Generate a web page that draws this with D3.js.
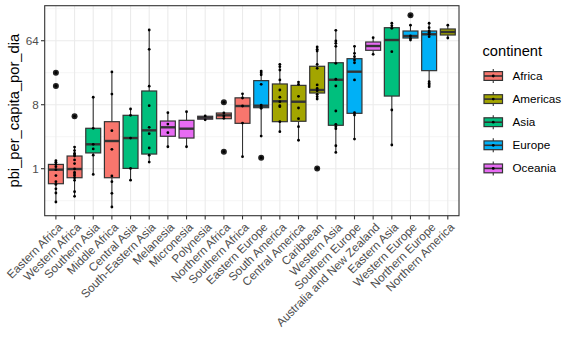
<!DOCTYPE html>
<html><head><meta charset="utf-8">
<script src="https://cdn.jsdelivr.net/npm/d3@7"></script>
<style>body{margin:0;background:#fff}svg{display:block;font-family:"Liberation Sans",Arial,Helvetica,sans-serif}</style>
</head><body><svg id="c" width="576" height="355"></svg>
<script>
const regions = ["Eastern Africa","Western Africa","Southern Asia","Middle Africa","Central Asia","South-Eastern Asia","Melanesia","Micronesia","Polynesia","Northern Africa","Southern Africa","Eastern Europe","South America","Central America","Caribbean","Western Asia","Southern Europe","Australia and New Zealand","Eastern Asia","Western Europe","Northern Europe","Northern America"];
const regionContinent = ["Africa","Africa","Asia","Africa","Asia","Asia","Oceania","Oceania","Oceania","Africa","Africa","Europe","Americas","Americas","Americas","Asia","Europe","Oceania","Asia","Europe","Europe","Americas"];
const continents = ["Africa","Americas","Asia","Europe","Oceania"];
const continentColors = ["#F8766D","#A3A500","#00BF7D","#00B0F6","#E76BF3"];
const lowerWhisker = [0.339,0.408,0.83,0.288,0.69,1.23,2.04,2.04,4.9,5.08,1.48,2.89,3.33,2.52,9.63,1.70,2.62,41.2,2.16,65.5,14.4,69.9];
const q1 = [0.614,0.746,1.67,0.746,1.01,1.61,2.87,2.71,5.0,5.08,4.37,7.26,4.61,4.67,11.7,4.10,6.05,46.9,10.6,69.9,24.2,77.1];
const medians = [0.97,0.99,2.21,2.46,2.71,3.48,3.84,3.67,5.25,5.67,7.67,7.75,8.94,8.82,12.9,18.0,23.4,53.9,65.5,74.6,78.9,85.0];
const q3 = [1.15,1.51,3.72,4.61,5.67,12.5,4.71,4.82,5.5,6.11,10.0,17.5,15.7,15.0,27.9,31.3,35.7,61.4,97.7,87.8,87.8,93.7];
const upperWhisker = [1.30,2.02,10.2,23.2,6.96,90.7,6.17,6.37,5.55,6.11,11.4,23.9,29.7,16.7,52.2,89.8,53.4,70.6,113,106,113,106];
const outliers = [[22.6,14.7],[5.49],[],[],[],[],[],[],[],[8.65,1.74],[],[1.43],[],[],[1.01],[],[],[],[],[146],[],[]];
const points = [
 [1.30,1.23,1.15,1.07,0.97,0.80,0.656,0.60,0.52,0.454,0.339],
 [2.02,1.80,1.65,1.58,1.51,1.33,1.18,0.99,0.89,0.84,0.80,0.746,0.686,0.474,0.408],
 [10.2,3.72,2.21,1.90,1.55,0.83],
 [23.2,11.3,3.44,1.88,0.79,0.656,0.45,0.288],
 [6.96,5.67,2.71,1.01,0.69],
 [90.7,48.4,14.6,7.75,3.84,3.12,1.96,1.55,1.24],
 [6.17,4.27,3.22,2.04],
 [6.37,2.04],
 [5.55,4.9],
 [6.11,5.54,5.14],
 [11.4,9.95,7.67,4.41,1.48],
 [23.9,22.6,21.2,15.5,7.92,7.50,7.12,2.89],
 [29.7,27.5,24.7,17.9,12.9,10.2,8.82,7.75,7.50,4.61,3.33],
 [16.7,15.5,10.5,7.19,5.08,3.92,2.52],
 [52.2,48.4,45.8,29.7,26.1,15.2,13.6,12.6,11.2,10.4,9.63],
 [89.8,63.4,58.9,53.4,30.7,18.3,14.7,6.52,4.23,3.92,3.67,2.11,1.70],
 [53.4,42.5,38.1,34.2,31.3,17.9,6.17,5.73,2.62],
 [70.6,41.2],
 [113,104,95.8,44.8,6.74,2.16],
 [106,74.6,69.2,65.5],
 [113,97.7,87.8,84.2,78.9,72.9,16.9,16.0,15.2,14.4],
 [106,69.9]
];
const yTicks = [1,8,64];
const yMinor = [Math.pow(2,-1.5),Math.pow(2,1.5),Math.pow(2,4.5),Math.pow(2,7.5)];
const yTitle = "pbi_per_capita_por_dia";
const legendTitle = "continent";

const svg = d3.select("#c");
const L = 44.7, R = 459, T = 5.7, B = 215.7;
const x = d3.scalePoint().domain(regions).range([L, R]).padding(0.6);
const y = d3.scaleLog().base(2).domain([Math.pow(2,-2.203), Math.pow(2,7.642)]).range([B, T]);
const color = d3.scaleOrdinal().domain(continents).range(continentColors);
const bw = x.step()*0.8;

// panel background
svg.append("rect").attr("x",L).attr("y",T).attr("width",R-L).attr("height",B-T).attr("fill","#fff");
const grid = svg.append("g");
yMinor.forEach(v=>{ const yy=y(v); if(yy>T && yy<B) grid.append("line").attr("x1",L).attr("x2",R).attr("y1",yy).attr("y2",yy).attr("stroke","#EBEBEB").attr("stroke-width",0.55); });
yTicks.forEach(v=>grid.append("line").attr("x1",L).attr("x2",R).attr("y1",y(v)).attr("y2",y(v)).attr("stroke","#EBEBEB").attr("stroke-width",1.1));
regions.forEach(r=>grid.append("line").attr("x1",x(r)).attr("x2",x(r)).attr("y1",T).attr("y2",B).attr("stroke","#EBEBEB").attr("stroke-width",1.1));

const boxes = svg.append("g");
regions.forEach((r,i)=>{
  const cx = x(r), g = boxes.append("g");
  g.append("line").attr("x1",cx).attr("x2",cx).attr("y1",y(q3[i])).attr("y2",y(upperWhisker[i])).attr("stroke","#333333").attr("stroke-width",1.1);
  g.append("line").attr("x1",cx).attr("x2",cx).attr("y1",y(q1[i])).attr("y2",y(lowerWhisker[i])).attr("stroke","#333333").attr("stroke-width",1.1);
  g.append("rect").attr("x",cx-bw/2).attr("width",bw).attr("y",y(q3[i])).attr("height",Math.max(0.01,y(q1[i])-y(q3[i])))
    .attr("fill",color(regionContinent[i])).attr("stroke","#333333").attr("stroke-width",1.2);
  g.append("line").attr("x1",cx-bw/2).attr("x2",cx+bw/2).attr("y1",y(medians[i])).attr("y2",y(medians[i])).attr("stroke","#333333").attr("stroke-width",2.4);
  outliers[i].forEach(v=>g.append("circle").attr("cx",cx).attr("cy",y(v)).attr("r",3).attr("fill","#222"));
});
const pts = svg.append("g");
regions.forEach((r,i)=>{
  points[i].concat(outliers[i]).forEach(v=>pts.append("circle").attr("cx",x(r)).attr("cy",y(v)).attr("r",1.4).attr("fill","#000"));
});

// panel border
svg.append("rect").attr("x",L).attr("y",T).attr("width",R-L).attr("height",B-T).attr("fill","none").attr("stroke","#333333").attr("stroke-width",1.1);

// y axis
const ya = svg.append("g");
yTicks.forEach(v=>{
  ya.append("line").attr("x1",L-3.7).attr("x2",L).attr("y1",y(v)).attr("y2",y(v)).attr("stroke","#333333").attr("stroke-width",1.1);
  ya.append("text").attr("x",L-6).attr("y",y(v)).attr("dy","0.35em").attr("text-anchor","end").attr("font-size",11.7).attr("fill","#4D4D4D").text(v);
});
svg.append("text").attr("transform",`translate(19,${(T+B)/2}) rotate(-90)`).attr("text-anchor","middle").attr("font-size",14.7).attr("fill","#000").text(yTitle);

// x axis
const xa = svg.append("g");
regions.forEach(r=>{
  xa.append("line").attr("x1",x(r)).attr("x2",x(r)).attr("y1",B).attr("y2",B+3.7).attr("stroke","#333333").attr("stroke-width",1.1);
  xa.append("text").attr("transform",`translate(${x(r)+1},${B+6}) rotate(-45)`).attr("text-anchor","end").attr("dy","0.75em").attr("font-size",11.7).attr("fill","#4D4D4D").text(r);
});

// legend
const lg = svg.append("g");
lg.append("text").attr("x",482.5).attr("y",56).attr("font-size",14.7).attr("fill","#000").text(legendTitle);
continents.forEach((c,i)=>{
  const cy = 76 + i*23.1, kx = 484, kw = 18.5, kc = kx+kw/2;
  lg.append("line").attr("x1",kc).attr("x2",kc).attr("y1",cy-7).attr("y2",cy+7).attr("stroke","#333333").attr("stroke-width",1.1);
  lg.append("rect").attr("x",kx).attr("y",cy-4.4).attr("width",kw).attr("height",8.8).attr("fill",color(c)).attr("stroke","#333333").attr("stroke-width",1.2);
  lg.append("line").attr("x1",kx).attr("x2",kx+kw).attr("y1",cy).attr("y2",cy).attr("stroke","#333333").attr("stroke-width",1.6);
  lg.append("circle").attr("cx",kc).attr("cy",cy).attr("r",1.4).attr("fill","#000");
  lg.append("text").attr("x",512.5).attr("y",cy).attr("dy","0.35em").attr("font-size",11.7).attr("fill","#000").text(c);
});
</script></body></html>
